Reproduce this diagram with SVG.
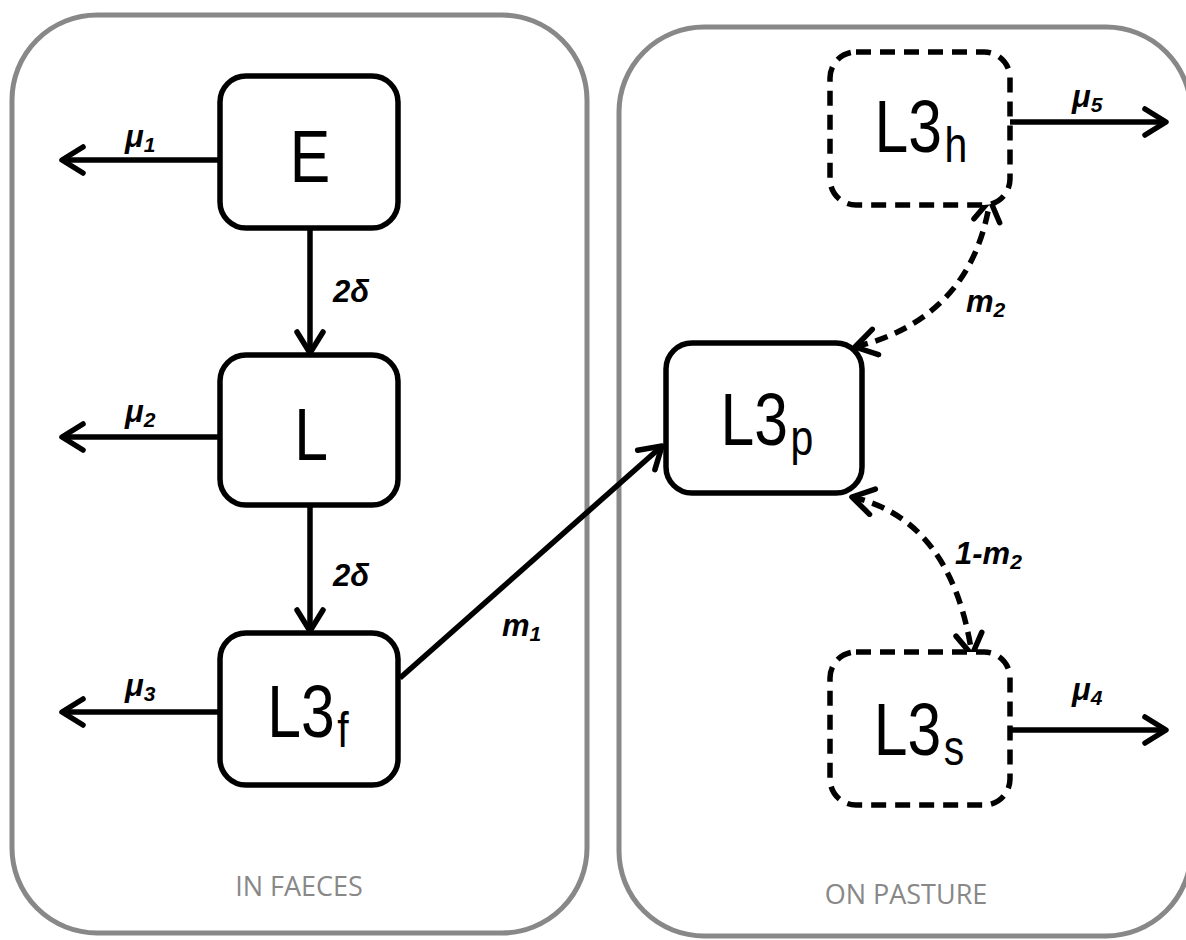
<svg xmlns="http://www.w3.org/2000/svg" width="1186" height="940" viewBox="0 0 1186 940">
  <style>
    .zone { fill: none; stroke: #888888; stroke-width: 5; }
    .zone-label { font-family: "Open Sans", "Liberation Sans", sans-serif; font-size: 27px; fill: #888888; text-anchor: middle; }
    .box { fill: #ffffff; stroke: #000000; stroke-width: 5.5; }
    .box-dash { fill: #ffffff; stroke: #000000; stroke-width: 5.5; stroke-dasharray: 15 9; }
    .name { font-family: "Liberation Sans", "DejaVu Sans", sans-serif; font-size: 74px; fill: #000000; text-anchor: middle; }
    .sub { font-size: 50px; }
    .edge { fill: none; stroke: #000000; stroke-width: 5.5; }
    .edge-dash { fill: none; stroke: #000000; stroke-width: 5.5; stroke-dasharray: 13 8; }
    .rate { font-family: "Liberation Sans", "DejaVu Sans", sans-serif; font-size: 31px; font-weight: bold; font-style: italic; fill: #000000; }
    .rsub { font-size: 21px; }
  </style>
  <defs>
    <marker id="head" viewBox="0 0 28 32" refX="25" refY="16" markerWidth="28" markerHeight="32" markerUnits="userSpaceOnUse" orient="auto-start-reverse">
      <path d="M4,3 L25,16 L4,29" fill="none" stroke="#000000" stroke-width="5.5" stroke-linecap="round" stroke-linejoin="round"/>
    </marker>
  </defs>

  <!-- compartments -->
  <g id="zone-faeces">
    <rect class="zone" x="12" y="15" width="575" height="918" rx="85"/>
    <text class="zone-label" x="299" y="896">IN FAECES</text>
  </g>
  <g id="zone-pasture">
    <rect class="zone" x="619" y="27" width="572" height="909" rx="85"/>
    <text class="zone-label" x="906" y="904">ON PASTURE</text>
  </g>

  <!-- connectors -->
  <g id="connectors">
    <line class="edge" x1="220" y1="160" x2="62" y2="160" marker-end="url(#head)"/>
    <line class="edge" x1="220" y1="437" x2="62" y2="437" marker-end="url(#head)"/>
    <line class="edge" x1="220" y1="712" x2="62" y2="712" marker-end="url(#head)"/>
    <line class="edge" x1="310" y1="228" x2="310" y2="353" marker-end="url(#head)"/>
    <line class="edge" x1="310" y1="505" x2="310" y2="631" marker-end="url(#head)"/>
    <line class="edge" x1="400" y1="678" x2="662" y2="446" marker-end="url(#head)"/>
    <line class="edge" x1="1010" y1="122" x2="1166" y2="122" marker-end="url(#head)"/>
    <line class="edge" x1="1010" y1="730" x2="1166" y2="730" marker-end="url(#head)"/>
    <path class="edge-dash" d="M855,347 Q972,318 990,200" marker-start="url(#head)" marker-end="url(#head)"/>
    <path class="edge-dash" d="M852,497 Q952,520 972,655" marker-start="url(#head)" marker-end="url(#head)"/>

    <text class="rate" x="125" y="147">μ<tspan class="rsub" dy="5">1</tspan></text>
    <text class="rate" x="125" y="422">μ<tspan class="rsub" dy="5">2</tspan></text>
    <text class="rate" x="125" y="696">μ<tspan class="rsub" dy="5">3</tspan></text>
    <text class="rate" x="333" y="302">2δ</text>
    <text class="rate" x="333" y="586">2δ</text>
    <text class="rate" x="502" y="636">m<tspan class="rsub" dy="5">1</tspan></text>
    <text class="rate" x="1072" y="107">μ<tspan class="rsub" dy="5">5</tspan></text>
    <text class="rate" x="1072" y="700">μ<tspan class="rsub" dy="5">4</tspan></text>
    <text class="rate" x="966" y="312">m<tspan class="rsub" dy="5">2</tspan></text>
    <text class="rate" x="955" y="564">1-m<tspan class="rsub" dy="5">2</tspan></text>
  </g>

  <!-- nodes -->
  <g id="node-E">
    <rect class="box" x="220" y="76" width="178" height="152" rx="26"/>
    <text class="name" transform="translate(310,182) scale(0.82,1)">E</text>
  </g>
  <g id="node-L">
    <rect class="box" x="220" y="355" width="178" height="150" rx="26"/>
    <text class="name" transform="translate(311,460) scale(0.82,1)">L</text>
  </g>
  <g id="node-L3f">
    <rect class="box" x="220" y="633" width="178" height="152" rx="26"/>
    <text class="name" transform="translate(308,737) scale(0.82,1)">L3<tspan class="sub" dx="3" dy="10">f</tspan></text>
  </g>
  <g id="node-L3p">
    <rect class="box" x="666" y="343" width="196" height="150" rx="26"/>
    <text class="name" transform="translate(767,445) scale(0.82,1)">L3<tspan class="sub" dx="3" dy="10">p</tspan></text>
  </g>
  <g id="node-L3h">
    <rect class="box-dash" x="830" y="52" width="180" height="153" rx="26"/>
    <text class="name" transform="translate(921,152) scale(0.82,1)">L3<tspan class="sub" dx="3" dy="10">h</tspan></text>
  </g>
  <g id="node-L3s">
    <rect class="box-dash" x="830" y="652" width="180" height="153" rx="26"/>
    <text class="name" transform="translate(919,755) scale(0.82,1)">L3<tspan class="sub" dx="3" dy="10">s</tspan></text>
  </g>
</svg>
